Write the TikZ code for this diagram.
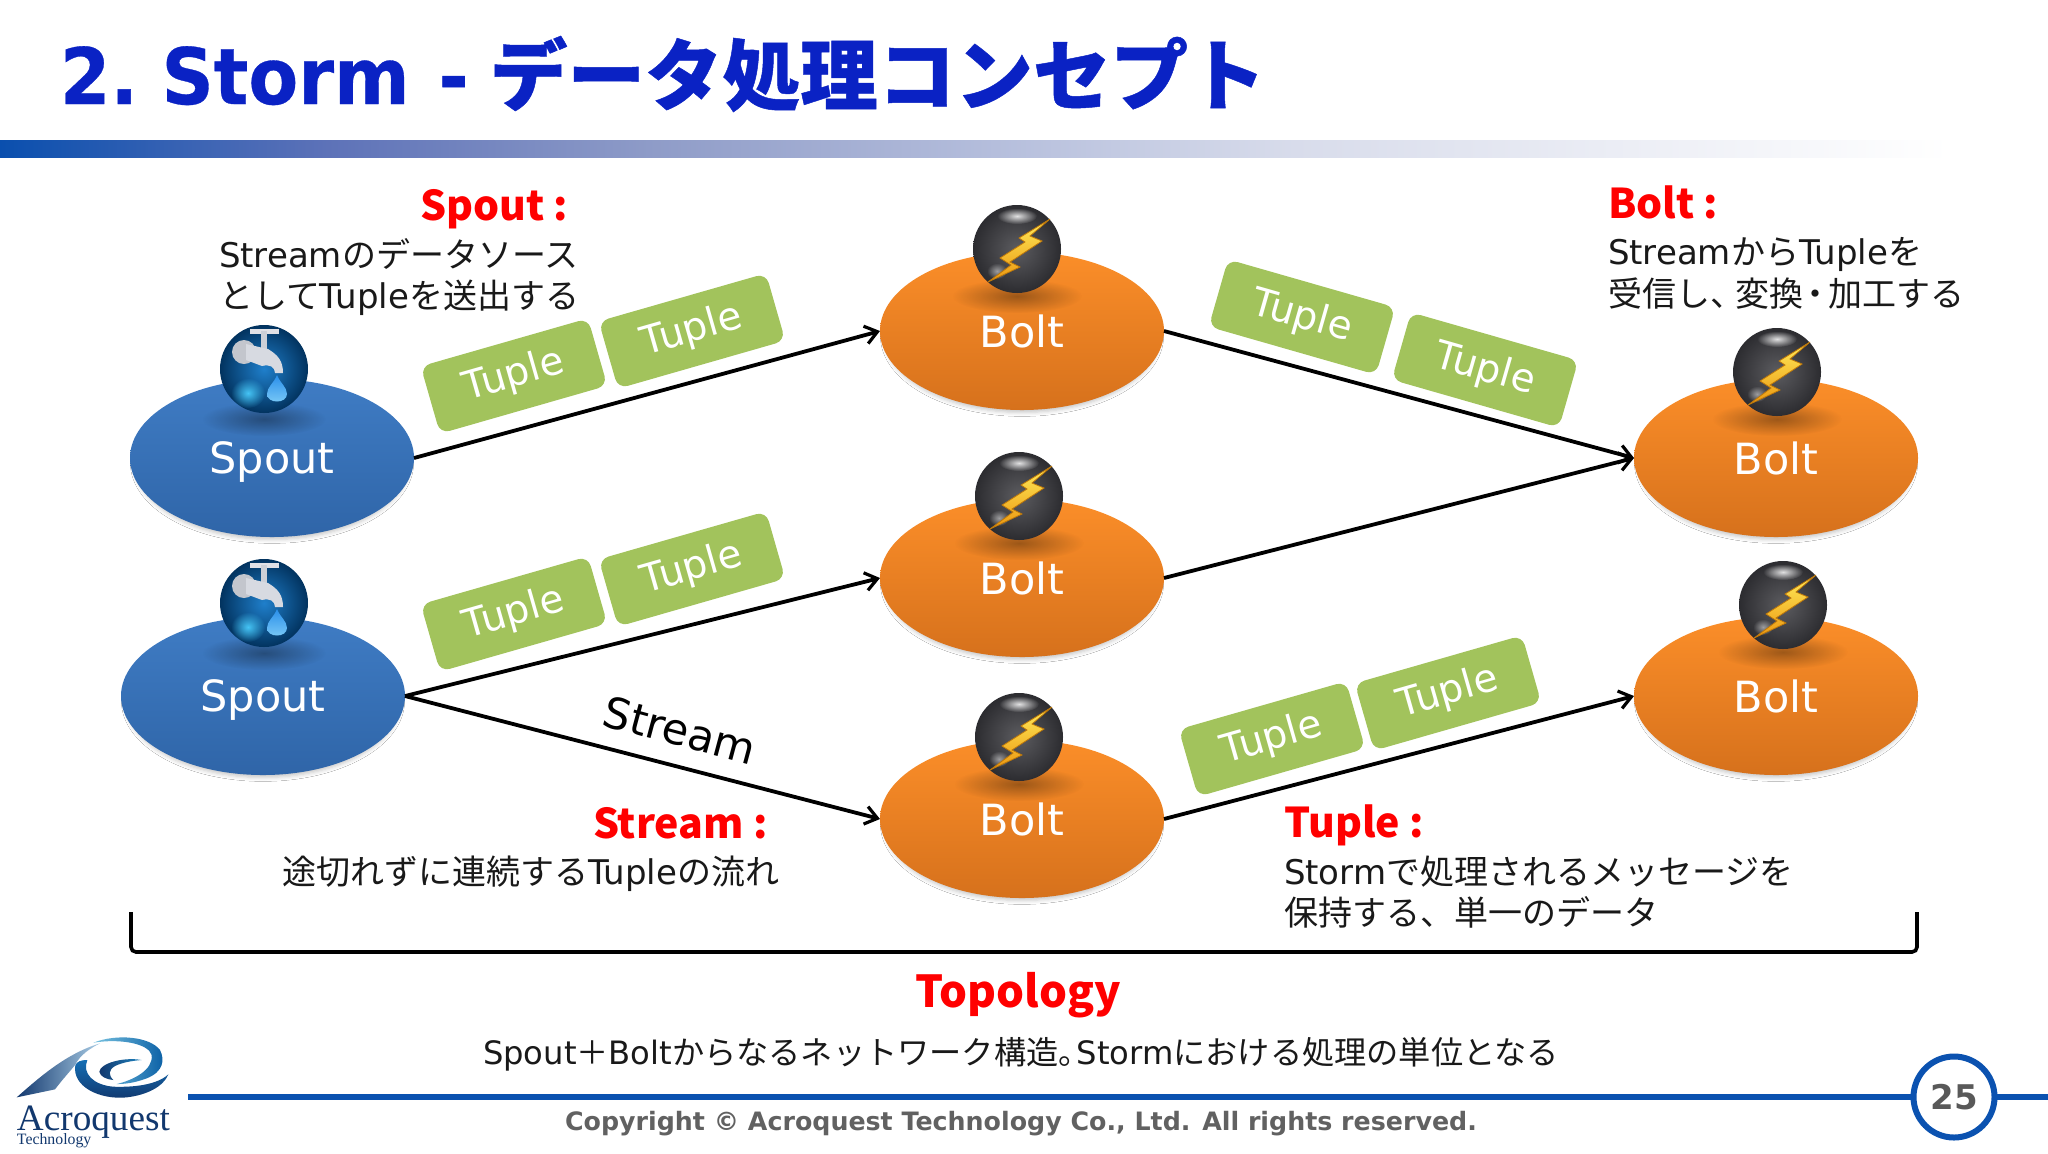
\documentclass[tikz,border=0pt]{standalone}
\usepackage{fontspec}
\setmainfont{DejaVu Sans}
\newfontfamily\cjk{Noto Sans CJK JP}
\newfontfamily\tms{Liberation Serif}
\newfontfamily\ttl{DejaVu Sans}[FakeStretch=0.93,WordSpace=0.6,BoldFeatures={FakeBold=0.4}]
\newfontfamily\ttlj{Noto Sans CJK JP}[FakeBold=0.6]
\newcommand{\J}[1]{{\cjk #1}}
\usetikzlibrary{shapes.geometric,arrows.meta,shadows.blur,fadings}
\definecolor{barA}{HTML}{0A4FAE}\definecolor{barB}{HTML}{5D72B8}\definecolor{barC}{HTML}{8F9CC8}
\definecolor{barD}{HTML}{B5BEDC}\definecolor{barE}{HTML}{D8DCEB}
\definecolor{deep}{HTML}{0B52B0}
\definecolor{titleblue}{HTML}{0A22C4}
\definecolor{tuplegreen}{HTML}{A2C35C}
\definecolor{logodark}{HTML}{12386E}
\definecolor{spoutT}{HTML}{3F7CC4}\definecolor{spoutB}{HTML}{2F65A8}
\definecolor{boltT}{HTML}{FB8E29}\definecolor{boltB}{HTML}{D6711C}
\definecolor{ballIn}{HTML}{1F7FCB}\definecolor{ballOut}{HTML}{02335F}
\definecolor{glow}{HTML}{45C4F5}\definecolor{drop}{HTML}{2A8FEA}\definecolor{dropB}{HTML}{7CCBF7}
\definecolor{met1}{HTML}{E1E1E6}\definecolor{met2}{HTML}{CDD0D7}\definecolor{met3}{HTML}{C3C6CD}\definecolor{met4}{HTML}{D7DAE1}
\definecolor{darkIn}{HTML}{5C5C60}\definecolor{darkOut}{HTML}{2C2C30}
\definecolor{zapT}{HTML}{FFEB5A}\definecolor{zapB}{HTML}{EB960F}\definecolor{zapD}{HTML}{BE780A}
\definecolor{logoA}{HTML}{AACDE6}\definecolor{logoB}{HTML}{146EB4}\definecolor{logoC}{HTML}{78C3E1}\definecolor{logoD}{HTML}{0A5FA5}\definecolor{logoE}{HTML}{1E82BE}
\pgfdeclarehorizontalshading{barshade}{100bp}{color(0bp)=(barA);color(25bp)=(barA);color(33bp)=(barB);color(41bp)=(barC);color(49.3bp)=(barD);color(56.6bp)=(barE);color(72.6bp)=(white);color(100bp)=(white)}
\tikzfading[name=fuzzy,inner color=transparent!0,outer color=transparent!100]
\tikzset{
  base/.style={inner sep=0pt,outer sep=0pt},
  softshadow/.style={blur shadow={shadow xshift=0pt,shadow yshift=-2.5pt,shadow scale=.97,shadow blur radius=2pt,shadow opacity=22}},
  spout/.style={base,ellipse,minimum width=142pt,minimum height=79pt,top color=spoutT,bottom color=spoutB,text=white,font=\fontsize{21.5}{25}\selectfont,text depth=0pt,softshadow},
  bolt/.style={base,ellipse,minimum width=142pt,minimum height=79pt,top color=boltT,bottom color=boltB,text=white,font=\fontsize{21.5}{25}\selectfont,softshadow},
  tuple/.style={base,rectangle,rounded corners=5pt,minimum width=87pt,minimum height=35pt,fill=tuplegreen,text=white,font=\fontsize{19.5}{23}\selectfont},
  flow/.style={line width=1.9pt,black,-{Straight Barb[length=6pt,width=9pt,line width=1.6pt]}},
  redlbl/.style={base,anchor=west,text=red,font=\cjk\bfseries\fontsize{20.5}{25}\selectfont},
  body/.style={base,anchor=west,text=black!90,text height=15pt,text depth=3pt,font=\fontsize{17}{20}\selectfont},
  rule/.style={line width=3.2pt,deep},
  faucet/.pic={
    \fill[black,opacity=.35,path fading=fuzzy] (0,50) ellipse [x radius=62,y radius=17];
    \shade[inner color=ballIn,outer color=ballOut] (0,0) circle [radius=44];
    \fill[glow,path fading=fuzzy] (-16,24) ellipse [x radius=17,y radius=15];
    \fill[met1] (-14,-40) rectangle (15,-35);
    \fill[met2] (-3,-38) rectangle (3,-18);
    \fill[met3] (-20,-17) circle [radius=12];
    \fill[met4] (-18,-25) -- (4,-20) .. controls (14,-14) and (19,-8) .. (19,4) -- (11,4) .. controls (11,-2) and (6,-5) .. (-2,-3) -- (-18,-9) -- cycle;
    \path[top color=drop,bottom color=dropB] (13,6) .. controls (16,14) and (23,18) .. (23,25) .. controls (23,35) and (3,35) .. (3,25) .. controls (3,18) and (10,14) .. (13,6) -- cycle;
  },
  lightning/.pic={
    \fill[black,opacity=.35,path fading=fuzzy] (0,47) ellipse [x radius=65,y radius=17];
    \shade[inner color=darkIn,outer color=darkOut] (0,0) circle [radius=44];
    \fill[white,opacity=.85,path fading=fuzzy] (0,-33) ellipse [x radius=20,y radius=8];
    \fill[white,opacity=.5,path fading=fuzzy] (-20,22) ellipse [x radius=10,y radius=8];
    \path[top color=zapT,bottom color=zapB,draw=zapD,line width=.4pt]
      (33,-30) -- (2,-11) -- (8,-7) -- (-17,9) -- (-6,16) -- (-29,33) -- (3,18) -- (-7,13) -- (25,-8) -- (13,-13) -- cycle;
  }
}
\begin{document}
\begin{tikzpicture}[x=0.5pt,y=-0.5pt]
\useasboundingbox (0,0) rectangle (2048,1153);
\fill[white] (0,0) rectangle (2048,1153);
% header
\node[base,anchor=west,text=titleblue,font=\ttl\bfseries\fontsize{39}{46}\selectfont] (title) at (60,74) {2. Storm\kern14.5pt-\kern10.5pt {\ttlj\bfseries\fontsize{38.8}{46}\selectfont データ処理コンセプト}};
\shade[shading=barshade] (0,140) rectangle (2048,157);
% nodes
\node[spout] (s1) at (272,458) {Spout};
\node[spout] (s2) at (263,696) {Spout};
\node[bolt] (b1) at (1022,331) {Bolt};
\node[bolt] (b2) at (1022,578) {Bolt};
\node[bolt] (b3) at (1022,819) {Bolt};
\node[bolt] (b4) at (1776,458) {Bolt};
\node[bolt] (b5) at (1776,696) {Bolt};
\pic at (264,369) {faucet};
\pic at (264,603) {faucet};
\pic at (1017,249) {lightning};
\pic at (1019,496) {lightning};
\pic at (1019,737) {lightning};
\pic at (1777,372) {lightning};
\pic at (1783,605) {lightning};
\draw[flow] (s1.east) -- (b1.west);
\draw[flow] (b1.east) -- (b4.west);
\draw[flow] (b2.east) -- (b4.west);
\draw[flow] (s2.east) -- (b2.west);
\draw[flow] (s2.east) -- (b3.west);
\draw[flow] (b3.east) -- (b5.west);
% tuples
\node[tuple,rotate=16] (t1) at (514,376) {Tuple};
\node[tuple,rotate=16] (t2) at (692,331) {Tuple};
\node[tuple,rotate=16] (t3) at (514,614) {Tuple};
\node[tuple,rotate=16] (t4) at (692,569) {Tuple};
\node[tuple,rotate=-16] (t5) at (1302,317) {Tuple};
\node[tuple,rotate=-16] (t6) at (1485,370) {Tuple};
\node[tuple,rotate=16] (t7) at (1272,739) {Tuple};
\node[tuple,rotate=16] (t8) at (1448,693) {Tuple};
\node[base,rotate=-15,font=\fontsize{21.5}{25}\selectfont,text=black] (streamlbl) at (680,730) {Stream};
% labels
\node[redlbl] (l1) at (420,209) {Spout :};
\node[body] (l1a) at (219,255) {Stream\J{のデータソース}};
\node[body] (l1b) at (219,296.5) {\J{として}Tuple\J{を送出する}};
\node[redlbl] (l2) at (1608,202) {Bolt :};
\node[body] (l2a) at (1608,252) {Stream\J{から}Tuple\J{を}};
\node[body] (l2b) at (1608,294) {\J{受信し、\kern-4.5pt変換\kern-2.25pt・\kern-2.25pt加工する}};
\node[redlbl] (l3) at (593,823) {Stream :};
\node[body] (l3a) at (282,872.5) {\J{途切れずに連続する}Tuple\J{の流れ}};
\node[redlbl] (l4) at (1284,825) {Tuple :};
\node[body] (l4a) at (1284,872.5) {Storm\J{で処理されるメッセージを}};
\node[body] (l4b) at (1284,913) {\J{保持する、単一のデータ}};
% brace
\coordinate (br1) at (131,912);\coordinate (br2) at (131,952);\coordinate (br3) at (1917,952);\coordinate (br4) at (1917,912);
\draw[line width=1.8pt,rounded corners=2.5pt,black] (br1) -- (br2) -- (br3) -- (br4);
\node[redlbl,anchor=center,font=\cjk\bfseries\fontsize{22}{26}\selectfont] (topo) at (1018,995) {Topology};
\node[base,anchor=center,text=black!90,font=\fontsize{16.1}{20}\selectfont] (topod) at (1021,1054) {Spout\J{＋}Bolt\J{からなるネットワーク構造。\kern-7pt}Storm\J{における処理の単位となる}};
% footer
\node[base,circle,draw=deep,line width=3pt,minimum size=40.5pt,fill=white,text=black!65,font=\bfseries\fontsize{17}{20}\selectfont] (pg) at (1954,1097) {25};
\coordinate (fa) at (188,1097);\coordinate (fb) at (2048,1097);
\draw[rule] (fa) -- (pg.west);
\draw[rule] (pg.east) -- (fb);
\node[base,text=black!62,font=\bfseries\fontsize{12.65}{16}\selectfont] (copy) at (1021,1124) {Copyright © Acroquest Technology Co., Ltd. All rights reserved.};
% logo
\begin{scope}[shift={(0,1010)},x=0.1667pt,y=-0.1667pt]
\path[left color=logodark,right color=logoA] (50,262) .. controls (120,200) and (200,130) .. (300,100) .. controls (270,115) and (240,135) .. (225,165) .. controls (205,190) and (190,205) .. (165,238) -- cycle;
\path[top color=logoB,bottom color=logodark] (226,165) .. controls (215,230) and (300,270) .. (380,262) .. controls (440,255) and (490,230) .. (505,193) .. controls (470,225) and (400,232) .. (340,230) .. controls (280,225) and (245,190) .. (262,150) .. controls (240,150) and (232,155) .. (226,165) -- cycle;
\path[left color=logoC,right color=logoD] (280,98) .. controls (350,70) and (450,80) .. (480,120) .. controls (495,150) and (490,185) .. (440,205) .. controls (400,220) and (370,222) .. (350,222) .. controls (400,210) and (460,180) .. (455,135) .. controls (445,100) and (360,85) .. (280,98) -- cycle;
\path[left color=logodark,right color=logoE] (425,150) .. controls (370,140) and (300,160) .. (298,185) .. controls (300,200) and (320,208) .. (340,210) .. controls (325,195) and (325,180) .. (345,168) .. controls (365,158) and (395,152) .. (425,150) -- cycle;
\end{scope}
\node[base,anchor=west,text=logodark,font=\tms\fontsize{18.6}{22}\selectfont] (acro) at (17,1122) {Acroquest};
\node[base,anchor=west,text=logodark,font=\tms\fontsize{7.9}{9}\selectfont] (tech) at (17,1141) {Technology};
\end{tikzpicture}
\end{document}
